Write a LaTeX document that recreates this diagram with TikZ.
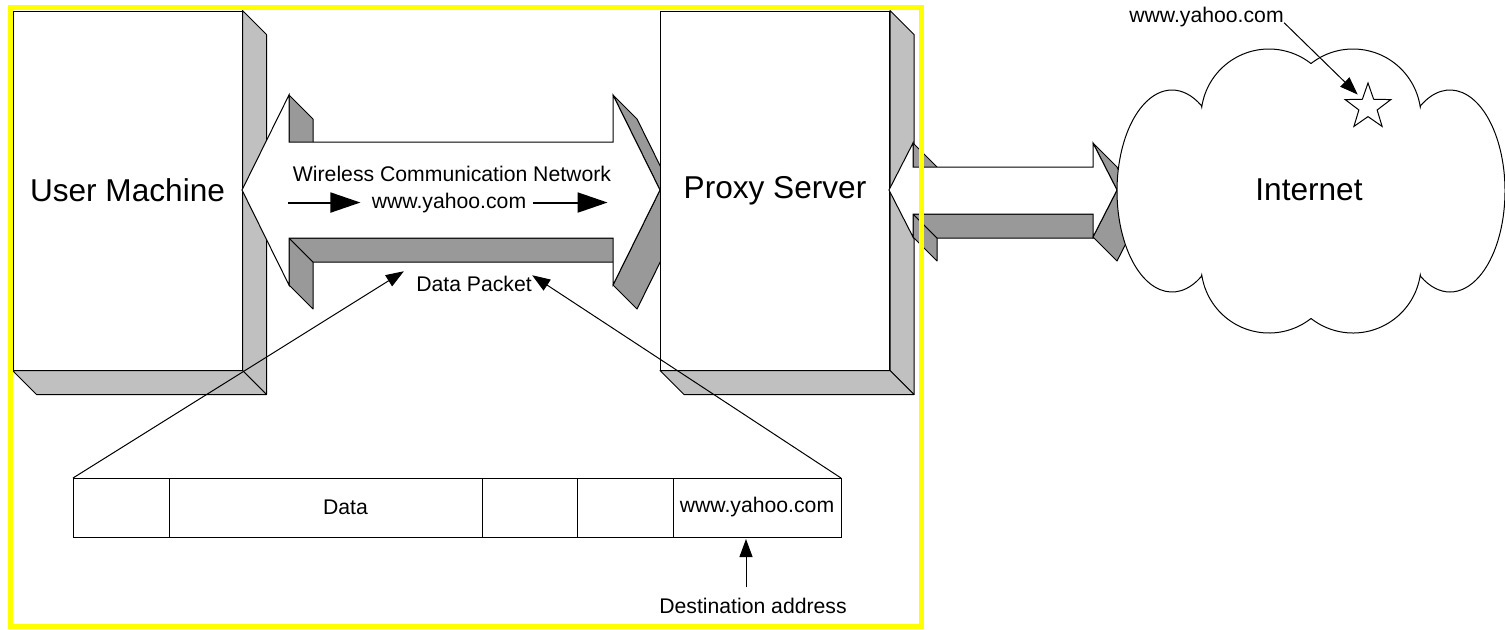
\documentclass[tikz,border=0pt]{standalone}
\usepackage{fontspec}
\setmainfont{Liberation Sans}
\usetikzlibrary{positioning,arrows.meta,shapes.geometric}
\definecolor{sidegray}{HTML}{C0C0C0}
\definecolor{bandgray}{HTML}{999999}
\definecolor{hilite}{HTML}{FFFF00}
\tikzset{
	machine/.style={draw, fill=white, line width=0.5pt, inner sep=0pt, minimum width=114.5pt, minimum height=179.5pt, font=\fontsize{15.8}{19}\selectfont},
	side/.style={draw, fill=sidegray, line width=0.5pt, line join=round},
	band/.style={draw, fill=bandgray, line width=0.5pt, line join=round},
	face/.style={draw, fill=white, line width=0.5pt},
	txt/.style={inner sep=0pt, font=\fontsize{10.6}{12.7}\selectfont},
	bigtxt/.style={inner sep=0pt, font=\fontsize{15.8}{19}\selectfont},
	cell/.style={draw, line width=0.5pt, inner sep=0pt, outer sep=0pt, minimum height=29.5pt, font=\fontsize{10.6}{12.7}\selectfont},
	flow/.style={line width=1pt, -{Triangle[length=15pt, width=10pt]}},
	pointer/.style={line width=0.5pt, -{Triangle[length=9pt, width=6.5pt]}},
	cloudline/.style={draw, fill=white, line width=0.5pt},
	hiliteframe/.style={draw=hilite, line width=2.5pt}
}
\begin{document}
\begin{tikzpicture}[x=0.5pt, y=-0.5pt]
	\useasboundingbox (0,0) rectangle (1505,629);
	
	% user machine
	\node[machine] (um) at (127.5,190.5) {User Machine};
	\draw[side] (um.north east) -- ++(24,24) -- ([shift={(24,24)}]um.south east) -- (um.south east) -- cycle;
	\draw[side] (um.south west) -- ++(24,24) -- ([shift={(24,24)}]um.south east) -- (um.south east) -- cycle;
	
	% wireless link
	\draw[band] (289,95) -- (313,119) -- (313,166) -- (289,142) -- cycle;
	\draw[band] (289,238) -- (313,262) -- (313,309) -- (289,285) -- cycle;
	\draw[band] (289,238) -- (613,238) -- (637,262) -- (313,262) -- cycle;
	\draw[band] (613,95) -- (637,119) -- (684,214) -- (660,190) -- cycle;
	\draw[band] (660,190) -- (684,214) -- (637,309) -- (613,285) -- cycle;
	\draw[face] (242,190) -- (289,95) -- (289,142) -- (613,142) -- (613,95) -- (660,190) -- (613,285) -- (613,238) -- (289,238) -- (289,285) -- cycle;
	
	% proxy server
	\node[machine] (ps) at (775,190.5) {Proxy Server};
	\draw[side] (ps.north east) -- ++(24,24) -- ([shift={(24,24)}]ps.south east) -- (ps.south east) -- cycle;
	\draw[side] (ps.south west) -- ++(24,24) -- ([shift={(24,24)}]ps.south east) -- (ps.south east) -- cycle;
	
	% link to the internet
	\draw[band] (913,143) -- (937,167) -- (937,191) -- (913,167) -- cycle;
	\draw[band] (913,214) -- (937,238) -- (937,261) -- (913,237) -- cycle;
	\draw[band] (913,214) -- (1093,214) -- (1117,238) -- (937,238) -- cycle;
	\draw[band] (1093,143) -- (1117,167) -- (1141,214) -- (1117,190) -- cycle;
	\draw[band] (1117,190) -- (1141,214) -- (1117,261) -- (1093,237) -- cycle;
	\draw[face] (889,190) -- (913,143) -- (913,167) -- (1093,167) -- (1093,143) -- (1117,190) -- (1093,237) -- (1093,214) -- (913,214) -- (913,237) -- cycle;
	
	% cloud
	\draw[cloudline] ([shift={(1269,117)}]-171.6:68) arc[start angle=-171.6, end angle=-52.1, radius=68]
		-- ([shift={(1353,117)}]-127.9:68) arc[start angle=-127.9, end angle=-8.4, radius=68]
		-- ([shift={(1450,191)}]-122.3:55 and 101) arc[start angle=-122.3, end angle=122.3, x radius=55, y radius=101]
		-- ([shift={(1353,265)}]8.4:68) arc[start angle=8.4, end angle=127.9, radius=68]
		-- ([shift={(1269,265)}]52.1:68) arc[start angle=52.1, end angle=171.6, radius=68]
		-- ([shift={(1172,191)}]57.7:55 and 101) arc[start angle=57.7, end angle=302.3, x radius=55, y radius=101]
		-- cycle;
	\node[bigtxt] (inet) at (1309,190) {Internet};
	\node[draw, star, star points=5, star point ratio=2.5, minimum size=24pt, inner sep=0pt, line width=0.5pt] (site) at (1368,107) {};
	\node[txt, anchor=base] (yahoo) at (1206.5,22.7) {www.yahoo.com};
	\draw[pointer, shorten >=3pt] (yahoo.base east) -- (site.126);
	
	% texts on the link
	\node[txt, anchor=base] (wcn) at (452,181.5) {Wireless Communication Network};
	\node[txt, anchor=base] (url) at (449,208) {www.yahoo.com};
	\draw[flow] ([xshift=-41.5pt]url.west) -- ([xshift=-5.5pt]url.west);
	\draw[flow] ([xshift=3pt]url.east) -- ([xshift=40.5pt]url.east);
	\node[txt, anchor=base] (dp) at (474,291) {Data Packet};
	
	% packet
	\node[cell, minimum width=48pt] (pk1) at (121,507.5) {};
	\node[cell, minimum width=156.5pt, right=0pt of pk1] (pk2) {};
	\node[cell, minimum width=47.5pt, right=0pt of pk2] (pk3) {};
	\node[cell, minimum width=48pt, right=0pt of pk3] (pk4) {};
	\node[cell, minimum width=84pt, right=0pt of pk4] (pk5) {www.yahoo.com};
	\node[txt] (data) at ([xshift=10pt]pk2.center) {Data};
	\node[txt, anchor=base] (dest) at (753,613) {Destination address};
	\draw[pointer] ([xshift=-3.5pt,yshift=5pt]dest.north) -- ([xshift=-5.5pt,yshift=-1pt]pk5.south);
	\draw[pointer] (pk1.north west) -- ([xshift=-6pt,yshift=2pt]dp.north west);
	\draw[pointer] (pk5.north east) -- (dp.north east);
	
	\draw[hiliteframe] (10.5,7) rectangle (921.5,626);
\end{tikzpicture}
\end{document}
